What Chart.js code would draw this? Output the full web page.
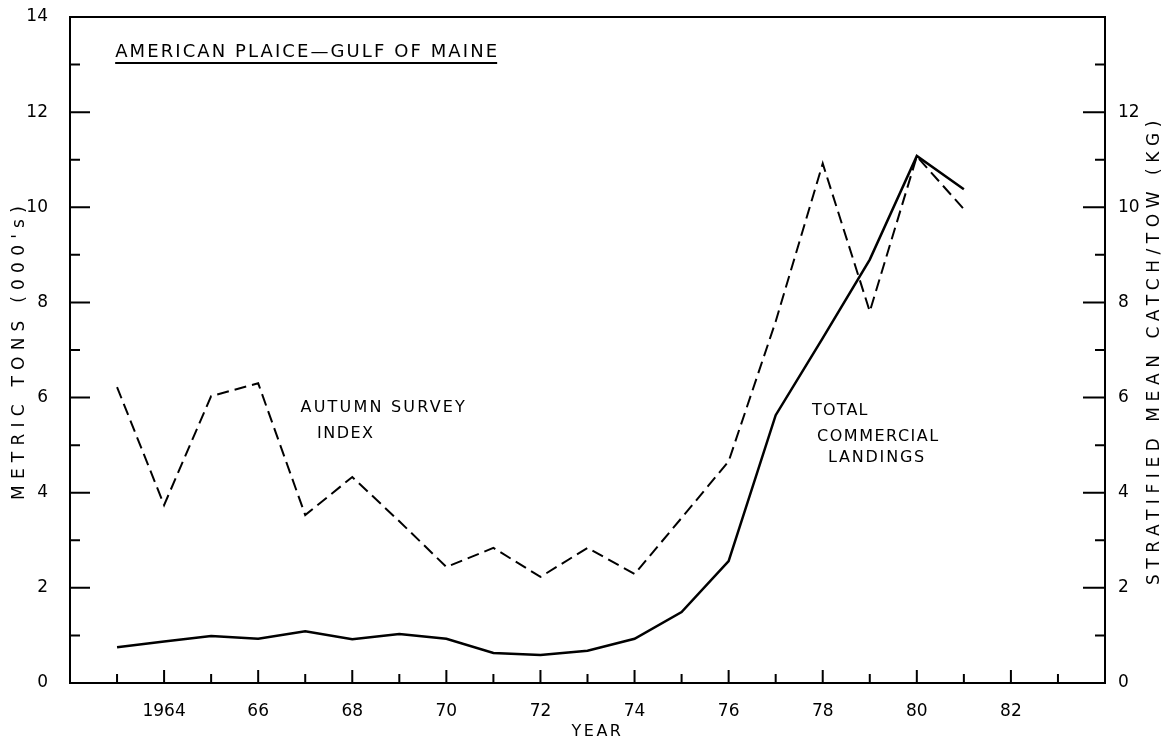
<!DOCTYPE html>
<html>
<head>
<meta charset="utf-8">
<script src="https://cdn.jsdelivr.net/npm/chart.js@4.4.1/dist/chart.umd.min.js"></script>
<style>
  html, body { margin: 0; padding: 0; background: #fff; }
  #wrap { width: 1170px; height: 742px; position: relative; }
</style>
</head>
<body>
<div id="wrap"><canvas id="plaice"></canvas></div>
<script>
var years = [1963, 1964, 1965, 1966, 1967, 1968, 1969, 1970, 1971, 1972,
             1973, 1974, 1975, 1976, 1977, 1978, 1979, 1980, 1981];
// total commercial landings, metric tons (000's)
var landings = [0.75, 0.87, 0.99, 0.93, 1.09, 0.92, 1.03, 0.93, 0.63, 0.59,
                0.68, 0.93, 1.49, 2.56, 5.63, 7.25, 8.9, 11.08, 10.38];
// autumn survey index, stratified mean catch/tow (kg)
var surveyIndex = [6.22, 3.74, 6.03, 6.30, 3.53, 4.33, 3.4, 2.44, 2.84, 2.23,
                   2.84, 2.29, 3.47, 4.66, 7.6, 10.92, 7.81, 11.07, 9.96];
var yearLabels = [1964, 1966, 1968, 1970, 1972, 1974, 1976, 1978, 1980, 1982];
var leftTicks = [0, 2, 4, 6, 8, 10, 12, 14];
var rightTicks = [0, 2, 4, 6, 8, 10, 12];

var FONT = '"DejaVu Sans", sans-serif';

function pts(vals) {
  return years.map(function (yr, i) { return { x: yr, y: vals[i] }; });
}

function drawText(ctx, text, px, py, size, spacing) {
  ctx.font = size + 'px ' + FONT;
  ctx.letterSpacing = spacing + 'px';
  ctx.fillText(text, px, py);
  return ctx.measureText(text).width;
}

// draw text stretched (via letter spacing) to a given length
function drawFit(ctx, text, px, py, size, length) {
  ctx.font = size + 'px ' + FONT;
  ctx.letterSpacing = '0px';
  var w = ctx.measureText(text).width;
  var sp = (length - w) / text.length;
  return drawText(ctx, text, px, py, size, sp);
}

function noEdgePadding(s, width) {
  s.width = width;
  s.paddingTop = 0;
  s.paddingBottom = 0;
}

var extras = {
  id: 'extras',
  afterDraw: function (chart) {
    var ctx = chart.ctx, a = chart.chartArea;
    var x = chart.scales.x, yl = chart.scales.y, yr = chart.scales.y2;
    ctx.save();
    ctx.strokeStyle = '#000';
    ctx.fillStyle = '#000';
    ctx.lineWidth = 2;
    ctx.strokeRect(a.left, a.top, a.right - a.left, a.bottom - a.top);

    // inward tick marks
    ctx.beginPath();
    for (var t = 1963; t <= 1983; t++) {
      var px = x.getPixelForValue(t);
      var len = t % 2 === 0 ? 13 : 9;
      ctx.moveTo(px, a.bottom);
      ctx.lineTo(px, a.bottom - len);
    }
    for (var v = 1; v <= 13; v++) {
      var pl = yl.getPixelForValue(v);
      ctx.moveTo(a.left, pl);
      ctx.lineTo(a.left + (v % 2 === 0 ? 20 : 10), pl);
      var pr = yr.getPixelForValue(v);
      ctx.moveTo(a.right, pr);
      ctx.lineTo(a.right - (v % 2 === 0 ? 22 : 10), pr);
    }
    ctx.stroke();

    // title with underline
    ctx.textAlign = 'left';
    ctx.textBaseline = 'alphabetic';
    var tx = x.getPixelForValue(1962.96), ty = yl.getPixelForValue(13.16);
    var w = drawFit(ctx, 'AMERICAN PLAICE\u2014GULF OF MAINE', tx, ty, 18, 384);
    ctx.lineWidth = 2;
    ctx.beginPath();
    ctx.moveTo(tx, ty + 6);
    ctx.lineTo(tx + w - 2, ty + 6);
    ctx.stroke();

    // series annotations
    ctx.textBaseline = 'middle';
    drawText(ctx, 'AUTUMN SURVEY', x.getPixelForValue(1966.9), yl.getPixelForValue(5.78), 16, 2.2);
    drawText(ctx, 'INDEX', x.getPixelForValue(1967.25), yl.getPixelForValue(5.23), 16, 1.5);
    drawText(ctx, 'TOTAL', x.getPixelForValue(1977.77), yl.getPixelForValue(5.72), 16, 1.2);
    drawText(ctx, 'COMMERCIAL', x.getPixelForValue(1977.88), yl.getPixelForValue(5.17), 16, 1.5);
    drawText(ctx, 'LANDINGS', x.getPixelForValue(1978.11), yl.getPixelForValue(4.73), 16, 1.8);

    // axis titles
    ctx.textAlign = 'center';
    drawText(ctx, 'YEAR', (a.left + a.right) / 2 + 10, a.bottom + 49, 16, 2.5);
    var cy = (a.top + a.bottom) / 2;
    ctx.save();
    ctx.translate(a.left - 50, cy);
    ctx.rotate(-Math.PI / 2);
    drawFit(ctx, "METRIC TONS (000's)", 0, 0, 17, 300);
    ctx.restore();
    ctx.save();
    ctx.translate(a.right + 50, cy);
    ctx.rotate(-Math.PI / 2);
    drawFit(ctx, 'STRATIFIED MEAN CATCH/TOW (KG)', 0, 0, 17, 470);
    ctx.restore();
    ctx.restore();
  }
};

var chartEl = document.getElementById('plaice');
new Chart(chartEl, {
  type: 'line',
  data: {
    datasets: [{
      label: 'Total commercial landings',
      data: pts(landings),
      borderColor: '#000',
      borderWidth: 2.5,
      pointRadius: 0,
      tension: 0,
      yAxisID: 'y'
    }, {
      label: 'Autumn survey index',
      data: pts(surveyIndex),
      borderColor: '#000',
      borderWidth: 2,
      borderDash: [12, 6],
      pointRadius: 0,
      tension: 0,
      yAxisID: 'y2'
    }]
  },
  options: {
    responsive: true,
    maintainAspectRatio: false,
    animation: false,
    layout: { padding: { top: 17 } },
    plugins: {
      legend: { display: false },
      tooltip: { enabled: false }
    },
    scales: {
      x: {
        type: 'linear',
        min: 1962,
        max: 1984,
        grid: { display: false },
        border: { display: false },
        afterFit: function (s) { s.height = 59; s.paddingLeft = 0; s.paddingRight = 0; },
        afterBuildTicks: function (s) {
          s.ticks = yearLabels.map(function (v) { return { value: v }; });
        },
        ticks: {
          autoSkip: false,
          maxRotation: 0,
          padding: 10,
          color: '#000',
          font: { family: FONT, size: 17 },
          callback: function (v) {
            return v === 1964 ? '1964' : String(v).slice(2);
          }
        }
      },
      y: {
        position: 'left',
        min: 0,
        max: 14,
        grid: { display: false },
        border: { display: false },
        afterFit: function (s) { noEdgePadding(s, 70); },
        afterBuildTicks: function (s) {
          s.ticks = leftTicks.map(function (v) { return { value: v }; });
        },
        ticks: {
          padding: 14,
          color: '#000',
          font: { family: FONT, size: 17 }
        }
      },
      y2: {
        position: 'right',
        min: 0,
        max: 14,
        grid: { display: false },
        border: { display: false },
        afterFit: function (s) { noEdgePadding(s, 65); },
        afterBuildTicks: function (s) {
          s.ticks = rightTicks.map(function (v) { return { value: v }; });
        },
        ticks: {
          padding: 5,
          color: '#000',
          font: { family: FONT, size: 17 }
        }
      }
    }
  },
  plugins: [extras]
});
</script>
</body>
</html>
